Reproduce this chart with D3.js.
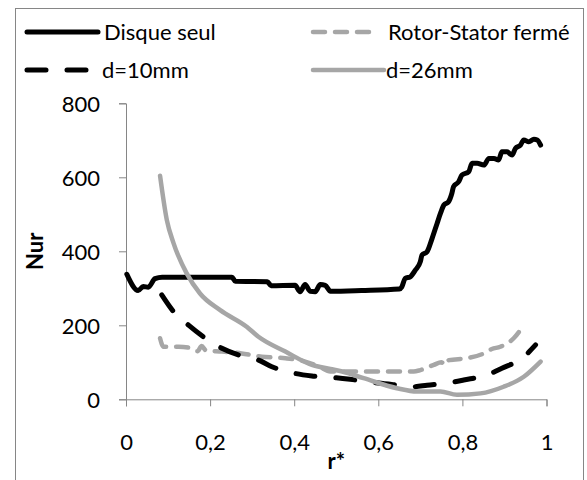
<!DOCTYPE html>
<html>
<head>
<meta charset="utf-8">
<script src="https://cdn.jsdelivr.net/npm/d3@7"></script>
<style>
  body { margin: 0; background: #fff; }
  svg text { font-family: Lato, "Open Sans", sans-serif; fill: #000; }
</style>
</head>
<body>
<div id="chart"></div>
<script>
// data: [r*, Nur]
const disqueSeul = [
  [0.002, 338], [0.029, 294], [0.041, 305], [0.053, 303], [0.069, 326], [0.086, 330],
  [0.252, 330], [0.260, 319], [0.336, 318], [0.345, 307], [0.402, 308], [0.414, 291],
  [0.426, 310], [0.438, 292], [0.450, 291], [0.462, 310], [0.474, 308], [0.486, 292],
  [0.560, 294], [0.650, 298], [0.656, 304], [0.664, 327], [0.676, 331], [0.688, 349],
  [0.700, 372], [0.704, 390], [0.716, 399], [0.728, 435], [0.740, 476], [0.748, 503],
  [0.756, 525], [0.767, 534], [0.775, 557], [0.779, 575], [0.791, 588], [0.799, 606],
  [0.815, 615], [0.823, 638], [0.835, 638], [0.851, 633], [0.863, 651], [0.875, 651],
  [0.886, 647], [0.894, 669], [0.906, 669], [0.918, 660], [0.926, 678], [0.938, 687],
  [0.946, 701], [0.958, 696], [0.970, 703], [0.978, 701], [0.986, 687]
];
const rotorStator = [
  [0.081, 165], [0.089, 142], [0.125, 142], [0.156, 138], [0.170, 130], [0.180, 144],
  [0.190, 132], [0.228, 129], [0.275, 124], [0.323, 115], [0.379, 111], [0.426, 102],
  [0.460, 88], [0.486, 75], [0.684, 75], [0.700, 79], [0.732, 93], [0.750, 100],
  [0.760, 92], [0.768, 106], [0.811, 111], [0.851, 124], [0.870, 136], [0.890, 142],
  [0.922, 165], [0.946, 201]
];
const d10mm = [
  [0.085, 282], [0.113, 237], [0.148, 201], [0.184, 169], [0.228, 138], [0.267, 120],
  [0.315, 106], [0.347, 88], [0.402, 70], [0.442, 63], [0.500, 58], [0.533, 54],
  [0.600, 44], [0.650, 38], [0.684, 34], [0.716, 38], [0.771, 45], [0.803, 52],
  [0.859, 66], [0.894, 84], [0.942, 111], [0.974, 147]
];
const d26mm = [
  [0.081, 604], [0.097, 485], [0.113, 422], [0.144, 341], [0.176, 286], [0.224, 241],
  [0.287, 196], [0.315, 169], [0.379, 129], [0.442, 93], [0.486, 82], [0.514, 75],
  [0.565, 57], [0.644, 30], [0.692, 21], [0.748, 21], [0.787, 12], [0.843, 16],
  [0.898, 34], [0.946, 61], [0.986, 102]
];
const xTicks = [0, 0.2, 0.4, 0.6, 0.8, 1];
const yTicks = [0, 200, 400, 600, 800];
const seriesNames = ['Disque seul', 'Rotor-Stator fermé', 'd=10mm', 'd=26mm'];

const width = 587, height = 480;
const plot = { left: 126, right: 546.5, top: 103.3, bottom: 399.3 };
const axisColor = '#868686';
const black = '#000', gray = '#a6a6a6';
const fontSize = 22;

const styles = [
  { data: disqueSeul, color: black, w: 5, dash: null },
  { data: rotorStator, color: gray, w: 4.5, dash: '12,10' },
  { data: d10mm, color: black, w: 5, dash: '19,21' },
  { data: d26mm, color: gray, w: 4.5, dash: null }
];

const svg = d3.select('#chart').append('svg')
  .attr('width', width)
  .attr('height', height);

svg.append('rect')
  .attr('x', 15.5).attr('y', 8.5)
  .attr('width', 568).attr('height', 490)
  .attr('fill', '#fff')
  .attr('stroke', axisColor);

const x = d3.scaleLinear().domain([0, 1]).range([plot.left, plot.right]);
const y = d3.scaleLinear().domain([0, 800]).range([plot.bottom, plot.top]);

const fmt = d => String(d).replace('.', ',');

const gx = svg.append('g')
  .attr('transform', `translate(0,${plot.bottom})`)
  .call(d3.axisBottom(x).tickValues(xTicks).tickFormat(fmt).tickSize(7));
gx.selectAll('text').attr('y', 43).attr('dy', '0.35em');

const gy = svg.append('g')
  .attr('transform', `translate(${plot.left},0)`)
  .call(d3.axisLeft(y).tickValues(yTicks).tickSize(7));
gy.selectAll('text').attr('x', -26).attr('dy', '0.35em');

svg.selectAll('.domain, .tick line').attr('stroke', axisColor);
svg.selectAll('.tick text').attr('font-size', fontSize).attr('font-family', 'Lato, sans-serif').attr('fill', '#000');

svg.append('text')
  .attr('transform', `translate(43,${(plot.top + plot.bottom) / 2}) rotate(-90)`)
  .attr('text-anchor', 'middle')
  .attr('font-size', fontSize).attr('font-weight', 'bold')
  .text('Nur');

svg.append('text')
  .attr('x', (plot.left + plot.right) / 2).attr('y', 469)
  .attr('text-anchor', 'middle')
  .attr('font-size', fontSize).attr('font-weight', 'bold')
  .text('r*');

const line = d3.line()
  .x(d => x(d[0]))
  .y(d => y(d[1]))
  .curve(d3.curveMonotoneX);

svg.append('g').selectAll('path')
  .data(styles)
  .join('path')
  .attr('d', s => line(s.data))
  .attr('fill', 'none')
  .attr('stroke', s => s.color)
  .attr('stroke-width', s => s.w)
  .attr('stroke-linecap', 'round')
  .attr('stroke-linejoin', 'round')
  .attr('stroke-dasharray', s => s.dash);

// legend, two columns
const legendPos = [
  { lx: 27, ly: 32, len: 71, tx: 104 },
  { lx: 313, ly: 32, len: 63, tx: 388 },
  { lx: 27, ly: 70, len: 63, tx: 102 },
  { lx: 313, ly: 70, len: 71, tx: 386 }
];
const lg = svg.append('g').selectAll('g')
  .data(seriesNames)
  .join('g');
lg.append('line')
  .attr('x1', (d, i) => legendPos[i].lx)
  .attr('x2', (d, i) => legendPos[i].lx + legendPos[i].len)
  .attr('y1', (d, i) => legendPos[i].ly)
  .attr('y2', (d, i) => legendPos[i].ly)
  .attr('stroke', (d, i) => styles[i].color)
  .attr('stroke-width', (d, i) => styles[i].w)
  .attr('stroke-linecap', 'round')
  .attr('stroke-dasharray', (d, i) => styles[i].dash);
lg.append('text')
  .attr('x', (d, i) => legendPos[i].tx)
  .attr('y', (d, i) => legendPos[i].ly)
  .attr('dy', '0.35em')
  .attr('font-size', fontSize)
  .text(d => d);
</script>
</body>
</html>
